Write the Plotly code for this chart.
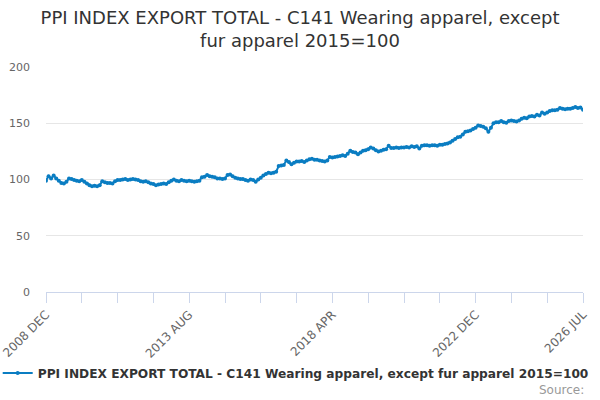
import plotly.graph_objects as go

# PPI export index, monthly, Dec 2008 onwards
ppi_values = [
    99, 103, 101, 103.5, 101, 99, 97, 96.5, 98, 101,
    100.5, 99.5, 99, 98.5, 99.5, 98, 96.5, 95, 94, 94.5,
    94, 95, 98.5, 97.5, 97, 97, 96.5, 98.5, 99.5, 99.5,
    100, 100.5, 99.5, 100, 100.5, 100, 99.5, 98.5, 98, 98.5,
    97.5, 96.5, 96, 95, 95.5, 96, 96.5, 96, 97.5, 99,
    100, 99, 98.5, 99.5, 99, 98.5, 99, 98.5, 98, 98.5,
    99, 102, 102.5, 104, 103, 102.5, 102, 101, 101, 100.5,
    101, 104, 104.5, 103, 101.5, 101, 100.5, 100.5, 99.5, 99,
    100, 99.5, 98, 100, 101.5, 103.5, 105, 106, 105.5, 106,
    107, 112, 112.5, 113, 117, 115.5, 113.5, 115, 116, 116,
    116.5, 115.5, 117, 118, 118.5, 117.5, 117.5, 117, 116.5, 116,
    117, 120, 119.5, 120, 120.5, 121, 121.5, 121, 123, 125.5,
    124.5, 124, 122.5, 124, 125.5, 126, 127, 128.5, 127.5, 126,
    125, 125.5, 126.5, 127, 130, 128, 128, 128.5, 128, 128.5,
    128.5, 129, 128.5, 129.5, 129, 129.5, 127.5, 130, 130.5, 130.5,
    130, 130.5, 130.5, 130, 131, 131, 131.5, 132, 133, 134.5,
    136, 137.5, 138, 140, 142.5, 143, 143.5, 145, 146, 148,
    147.5, 147, 145.5, 142.5, 146, 150, 151, 151, 152, 151,
    150.5, 152, 152.5, 152, 151.5, 152.5, 154, 155, 154.5, 156,
    156.5, 156, 157.5, 157, 159.5, 158.5, 159.5, 161, 161.5, 161.5,
    162, 163.5, 163, 162.5, 163, 163, 163.5, 164.5, 163.5, 164,
    162,
]
tick_positions = [0, 56, 112, 168, 210]
tick_labels = ['2008 DEC', '2013 AUG', '2018 APR', '2022 DEC', '2026 JUL']

series_name = 'PPI INDEX EXPORT TOTAL - C141 Wearing apparel, except fur apparel 2015=100'
font = 'DejaVu Sans, sans-serif'
axis_col = '#ccd6eb'

fig = go.Figure()
fig.add_trace(go.Scatter(
    x=list(range(len(ppi_values))), y=ppi_values,
    mode='lines+markers', name=series_name,
    line=dict(color='#0a7dc2', width=2),
    marker=dict(color='#0a7dc2', size=4),
))

fig.update_layout(
    width=600, height=400,
    margin=dict(l=46, r=17, t=67, b=108, autoexpand=False),
    paper_bgcolor='white', plot_bgcolor='white',
    font=dict(family=font, color='#666666', size=11),
    title=dict(
        text='PPI INDEX EXPORT TOTAL - C141 Wearing apparel, except<br>fur apparel 2015=100',
        x=0.5, xanchor='center', y=0.94, yanchor='top',
        font=dict(family=font, size=18, color='#333333'),
    ),
    showlegend=True,
    legend=dict(
        orientation='h', x=0.465, xanchor='center', y=-0.36, yanchor='middle',
        font=dict(family=font, size=12.2, color='#333333', weight='bold'),
        itemwidth=30,
    ),
)

fig.update_xaxes(
    range=[0, len(ppi_values) - 1], automargin=False,
    tickmode='array', tickvals=tick_positions, ticktext=tick_labels,
    tickangle=-45, ticks='outside', ticklen=10, tickcolor=axis_col,
    showline=True, linecolor=axis_col, linewidth=1,
    showgrid=False, zeroline=False,
    minor=dict(tickmode='linear', tick0=0, dtick=14, ticks='outside',
               ticklen=10, tickcolor=axis_col, showgrid=False),
    tickfont=dict(size=12, color='#666666'),
)
fig.update_yaxes(
    range=[0, 200], dtick=50, automargin=False,
    showgrid=True, gridcolor='#e6e6e6', zeroline=False,
    showline=False, ticks='', ticklabelstandoff=15,
    tickfont=dict(size=11, color='#666666'),
)

fig.add_annotation(
    text='Source:', xref='paper', yref='paper', x=1.005, y=-0.435,
    xanchor='right', yanchor='middle', showarrow=False,
    font=dict(family=font, size=12, color='#999999'),
)

# page body has a default margin; drop it so the chart sits at 0,0
fig.write_html('out.html', config={'displayModeBar': False},
               post_script="document.body.style.margin='0';")
